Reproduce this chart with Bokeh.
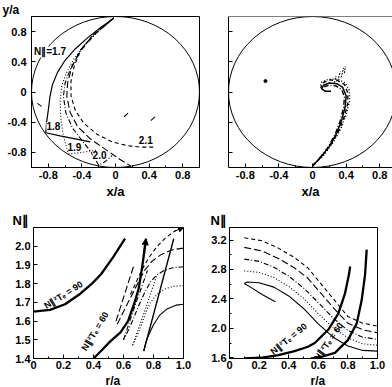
from bokeh.plotting import figure
from bokeh.layouts import row, column
from bokeh.models import Range1d, FixedTicker, Label, Span, Arrow, NormalHead, Title
from bokeh.embed import file_html
from bokeh.resources import INLINE

FONT = "Liberation Sans"

# ---------------- ticks ----------------
XY_TICKS = [-0.8, -0.4, 0.0, 0.4, 0.8]
XY_TICK_LABELS = ["-0.8", "-0.4", "0", "0.4", "0.8"]
XY_MINOR_TICKS = [-0.6, -0.2, 0.2, 0.6]
R_TICKS = [0.0, 0.2, 0.4, 0.6, 0.8, 1.0]
R_TICK_LABELS = ["0", "0.2", "0.4", "0.6", "0.8", "1.0"]
R_MINOR_TICKS = [0.1, 0.3, 0.5, 0.7, 0.9]
BL_N_TICKS = [1.4, 1.5, 1.6, 1.7, 1.8, 1.9, 2.0]
BL_N_TICK_LABELS = ["1.4", "1.5", "1.6", "1.7", "1.8", "1.9", "2.0"]
BR_N_TICKS = [1.6, 2.0, 2.4, 2.8, 3.2]
BR_N_TICK_LABELS = ["1.6", "2.0", "2.4", "2.8", "3.2"]
BR_N_MINOR_TICKS = [1.8, 2.2, 2.6, 3.0]

WALL_DIAMETER = 2.0

# ---------------- top-left: ray paths (x/a, y/a) ----------------
TL_R17_X = [-0.02, -0.18, -0.33, -0.48, -0.60, -0.69, -0.75, -0.78, -0.80, -0.82, -0.83, -0.66, -0.48, -0.30]
TL_R17_Y = [0.98, 0.85, 0.72, 0.57, 0.42, 0.26, 0.10, -0.06, -0.24, -0.40, -0.54, -0.58, -0.62, -0.66]
TL_R18_X = [-0.02, -0.22, -0.38, -0.50, -0.59, -0.64, -0.66, -0.65, -0.62, -0.58, -0.56, -0.40, -0.22]
TL_R18_Y = [0.98, 0.79, 0.61, 0.43, 0.24, 0.08, -0.12, -0.36, -0.58, -0.74, -0.82, -0.80, -0.77]
TL_R19_X = [-0.02, -0.25, -0.42, -0.53, -0.60, -0.62, -0.59, -0.51, -0.40, -0.30, -0.20, -0.12, -0.04]
TL_R19_Y = [0.98, 0.76, 0.54, 0.32, 0.12, -0.06, -0.28, -0.48, -0.64, -0.78, -0.97, -0.92, -0.84]
TL_R20_X = [-0.02, -0.27, -0.42, -0.52, -0.57, -0.58, -0.54, -0.45, -0.30, -0.12, 0.05, 0.18]
TL_R20_Y = [0.98, 0.75, 0.55, 0.33, 0.12, -0.06, -0.27, -0.46, -0.62, -0.76, -0.89, -0.98]
TL_R21_X = [-0.02, -0.28, -0.41, -0.49, -0.53, -0.53, -0.48, -0.38, -0.22, -0.04, 0.14, 0.30, 0.45]
TL_R21_Y = [0.98, 0.74, 0.56, 0.35, 0.14, -0.05, -0.24, -0.41, -0.56, -0.66, -0.71, -0.73, -0.73]
TL_DASH_X0 = [-0.93, 0.10, 0.42]
TL_DASH_Y0 = [-0.15, -0.33, -0.38]
TL_DASH_X1 = [-0.88, 0.15, 0.47]
TL_DASH_Y1 = [-0.19, -0.28, -0.33]
TL_LABELS = ["N\u2225=1.7", "1.8", "1.9", "2.0", "2.1"]
TL_LABEL_X = [-0.97, -0.74, -0.49, -0.19, 0.36]
TL_LABEL_Y = [0.53, -0.45, -0.73, -0.84, -0.64]

# ---------------- top-right: spiralling ray bundle ----------------
TR_A_X = [0.00, 0.10, 0.20, 0.29, 0.35, 0.39, 0.40, 0.36, 0.29, 0.20, 0.13, 0.11, 0.15, 0.22]
TR_A_Y = [-0.98, -0.86, -0.72, -0.54, -0.36, -0.19, -0.05, 0.06, 0.11, 0.12, 0.09, 0.04, 0.01, 0.01]
TR_B_X = [0.00, 0.12, 0.23, 0.32, 0.38, 0.42, 0.42, 0.38, 0.30, 0.20, 0.12, 0.10, 0.14]
TR_B_Y = [-0.98, -0.84, -0.68, -0.50, -0.32, -0.15, -0.01, 0.10, 0.15, 0.16, 0.12, 0.06, 0.02]
TR_C_X = [0.00, 0.14, 0.25, 0.34, 0.40, 0.44, 0.44, 0.39, 0.30, 0.19, 0.11, 0.09]
TR_C_Y = [-0.98, -0.83, -0.66, -0.48, -0.30, -0.13, 0.02, 0.12, 0.17, 0.17, 0.13, 0.06]
TR_D_X = [0.00, 0.08, 0.18, 0.27, 0.33, 0.37, 0.38, 0.35, 0.28, 0.20, 0.14]
TR_D_Y = [-0.98, -0.88, -0.74, -0.56, -0.38, -0.20, -0.07, 0.03, 0.08, 0.09, 0.07]
TR_HATCH_X0 = [0.26, 0.30, 0.34, 0.38]
TR_HATCH_Y0 = [0.12, 0.15, 0.19, 0.25]
TR_HATCH_X1 = [0.28, 0.33, 0.37, 0.39]
TR_HATCH_Y1 = [0.21, 0.27, 0.32, 0.34]
TR_DOT_X = [-0.56]
TR_DOT_Y = [0.145]

# ---------------- bottom-left: N_par vs r/a ----------------
BL_T90_R = [0.0, 0.11, 0.21, 0.31, 0.39, 0.45, 0.53, 0.61]
BL_T90_N = [1.65, 1.66, 1.69, 1.745, 1.80, 1.85, 1.94, 2.04]
BL_T60_R = [0.40, 0.45, 0.51, 0.58, 0.63, 0.67, 0.70, 0.72, 0.735, 0.75]
BL_T60_N = [1.40, 1.44, 1.49, 1.54, 1.60, 1.69, 1.77, 1.865, 1.95, 2.04]
BL_17_R = [1.0, 0.95, 0.89, 0.84, 0.80, 0.77, 0.75, 0.735]
BL_17_N = [1.69, 1.685, 1.665, 1.63, 1.58, 1.53, 1.49, 1.44]
BL_17B_R = [0.735, 0.835, 0.935]
BL_17B_N = [1.44, 1.74, 2.04]
BL_18_R = [1.0, 0.93, 0.87, 0.82, 0.78, 0.75, 0.72, 0.69, 0.66]
BL_18_N = [1.79, 1.785, 1.77, 1.74, 1.70, 1.65, 1.58, 1.52, 1.47]
BL_18B_R = [0.66, 0.74, 0.82]
BL_18B_N = [1.47, 1.65, 1.84]
BL_19_R = [1.0, 0.93, 0.87, 0.82, 0.78, 0.74, 0.70, 0.66, 0.62, 0.60]
BL_19_N = [1.89, 1.885, 1.87, 1.845, 1.81, 1.75, 1.68, 1.60, 1.53, 1.50]
BL_19B_R = [0.60, 0.68, 0.76]
BL_19B_N = [1.50, 1.69, 1.87]
BL_20_R = [1.0, 0.92, 0.85, 0.79, 0.74, 0.70, 0.65, 0.60, 0.55]
BL_20_N = [1.99, 1.98, 1.955, 1.92, 1.87, 1.81, 1.73, 1.65, 1.57]
BL_20B_R = [0.55, 0.61, 0.67]
BL_20B_N = [1.60, 1.75, 1.90]
BL_21_R = [1.0, 0.94, 0.88, 0.82, 0.77, 0.72, 0.68, 0.64]
BL_21_N = [2.10, 2.08, 2.045, 1.995, 1.94, 1.87, 1.80, 1.73]

# ---------------- bottom-right: N_par vs r/a ----------------
BR_T90_R = [0.10, 0.21, 0.33, 0.44, 0.53, 0.576, 0.667, 0.735, 0.78, 0.807, 0.815]
BR_T90_N = [1.59, 1.60, 1.635, 1.69, 1.75, 1.80, 1.98, 2.20, 2.47, 2.73, 2.84]
BR_T60_R = [0.55, 0.60, 0.712, 0.80, 0.86, 0.893, 0.916, 0.927]
BR_T60_N = [1.59, 1.60, 1.667, 1.84, 2.07, 2.38, 2.73, 3.07]
BR_21_R = [0.10, 0.22, 0.33, 0.44, 0.53, 0.62, 0.71, 0.80, 0.90, 1.0]
BR_21_N = [3.23, 3.19, 3.09, 2.96, 2.82, 2.60, 2.38, 2.16, 2.07, 2.03]
BR_20_R = [0.10, 0.22, 0.33, 0.44, 0.53, 0.62, 0.71, 0.80, 0.90, 1.0]
BR_20_N = [3.10, 3.05, 2.95, 2.82, 2.68, 2.47, 2.26, 2.07, 1.98, 1.94]
BR_19_R = [0.10, 0.20, 0.30, 0.40, 0.50, 0.60, 0.70, 0.80, 0.90, 1.0]
BR_19_N = [2.94, 2.91, 2.83, 2.71, 2.55, 2.35, 2.14, 1.97, 1.88, 1.85]
BR_18_R = [0.10, 0.20, 0.30, 0.40, 0.50, 0.60, 0.70, 0.80, 0.90, 1.0]
BR_18_N = [2.78, 2.76, 2.69, 2.57, 2.41, 2.20, 2.01, 1.87, 1.79, 1.77]
BR_17_R = [0.31, 0.22, 0.15, 0.10, 0.12, 0.20, 0.30, 0.40, 0.50, 0.60, 0.70, 0.80, 0.90, 1.0]
BR_17_N = [2.36, 2.46, 2.55, 2.61, 2.63, 2.62, 2.56, 2.44, 2.27, 2.06, 1.88, 1.76, 1.70, 1.69]

T90_TEXT = "N\u2225\u00b2T\u2091 = 90"
T60_TEXT = "N\u2225\u00b2T\u2091 = 60"


def base_fig(width, height, left, right, top, bottom, xr, yr):
    p = figure(width=width, height=height, x_range=Range1d(*xr), y_range=Range1d(*yr),
               toolbar_location=None, output_backend="svg",
               min_border_left=left, min_border_right=right,
               min_border_top=top, min_border_bottom=bottom)
    p.grid.visible = False
    p.outline_line_color = "black"
    p.outline_line_width = 1
    p.outline_line_alpha = 1.0
    p.background_fill_color = "white"
    p.border_fill_color = "white"
    for ax in p.axis:
        ax.major_tick_in = 4
        ax.major_tick_out = 0
        ax.minor_tick_in = 2
        ax.minor_tick_out = 0
        ax.axis_line_color = "black"
        ax.major_tick_line_color = "black"
        ax.minor_tick_line_color = "black"
        ax.major_label_text_font = FONT
        ax.major_label_text_font_size = "11px"
        ax.major_label_text_font_style = "bold"
        ax.major_label_text_color = "black"
        ax.major_label_standoff = 3
    return p


def set_ticks(axis, ticks, labels, minor=None):
    axis.ticker = FixedTicker(ticks=ticks, minor_ticks=minor or [])
    axis.major_label_overrides = dict(zip(ticks, labels))


def x_title(p, text, size="13px", standoff=2):
    p.xaxis.axis_label = text
    p.xaxis.axis_label_text_font = FONT
    p.xaxis.axis_label_text_font_size = size
    p.xaxis.axis_label_text_font_style = "bold"
    p.xaxis.axis_label_text_color = "black"
    p.xaxis.axis_label_standoff = standoff


def corner_title(p, text, offset, size="12px"):
    p.title.text = text
    p.title.align = "left"
    p.title.offset = offset
    p.title.standoff = 0
    p.title.text_font = FONT
    p.title.text_font_size = size
    p.title.text_font_style = "bold"
    p.title.text_color = "black"


def below_title(p, text, offset, size="12px"):
    p.add_layout(Title(text=text, align="left", offset=offset, standoff=0,
                       text_font=FONT, text_font_size=size, text_font_style="bold",
                       text_color="black"), "below")


def txt(p, x, y, s, size="10px", align="center", baseline="middle", angle=0.0, bg=None):
    p.add_layout(Label(x=x, y=y, text=s, text_font=FONT, text_font_size=size,
                       text_font_style="bold", text_color="black", text_align=align,
                       text_baseline=baseline, angle=angle, background_fill_color=bg))


def curve(p, xs, ys, dash="solid", w=1.1):
    p.line(xs, ys, line_color="black", line_width=w, line_dash=dash)


DOT = "1 2"
DASHDOT = "5 2 1 2"
LONG = "7 3"
DASH = "4 3"

# ======== top-left ========
p1 = base_fig(205, 205, 31, 6, 13, 38, (-1.0, 1.0), (-1.0, 1.0))
set_ticks(p1.xaxis, XY_TICKS, XY_TICK_LABELS, XY_MINOR_TICKS)
set_ticks(p1.yaxis, XY_TICKS, XY_TICK_LABELS)
p1.yaxis.major_label_standoff = 5
x_title(p1, "x/a")
corner_title(p1, "y/a", -29)
p1.ellipse(x=[0], y=[0], width=[WALL_DIAMETER], height=[WALL_DIAMETER],
           fill_color=None, line_color="black", line_width=1)
curve(p1, TL_R17_X, TL_R17_Y, "solid", 1.2)
curve(p1, TL_R18_X, TL_R18_Y, DOT)
curve(p1, TL_R19_X, TL_R19_Y, DASHDOT)
curve(p1, TL_R20_X, TL_R20_Y, LONG)
curve(p1, TL_R21_X, TL_R21_Y, DASH)
p1.segment(TL_DASH_X0, TL_DASH_Y0, TL_DASH_X1, TL_DASH_Y1, line_color="black", line_width=1.1)
txt(p1, TL_LABEL_X[0], TL_LABEL_Y[0], TL_LABELS[0], align="left", bg="white")
for s, x, y in zip(TL_LABELS[1:], TL_LABEL_X[1:], TL_LABEL_Y[1:]):
    txt(p1, x, y, s, bg="white")

# ======== top-right ========
p2 = base_fig(187, 205, 23, 0, 13, 38, (-1.0, 0.952), (-1.0, 1.0))
p2.outline_line_color = None
set_ticks(p2.xaxis, XY_TICKS, XY_TICK_LABELS, XY_MINOR_TICKS)
set_ticks(p2.yaxis, XY_TICKS, [""] * len(XY_TICKS))
x_title(p2, "x/a")
p2.add_layout(Span(location=1.0, dimension="width", line_color="black", line_width=1))
p2.ellipse(x=[0], y=[0], width=[WALL_DIAMETER], height=[WALL_DIAMETER],
           fill_color=None, line_color="black", line_width=1)
curve(p2, TR_A_X, TR_A_Y, "solid", 1.5)
curve(p2, TR_B_X, TR_B_Y, DASH, 1.4)
curve(p2, TR_C_X, TR_C_Y, DOT, 1.4)
curve(p2, TR_D_X, TR_D_Y, DASHDOT, 1.4)
p2.segment(TR_HATCH_X0, TR_HATCH_Y0, TR_HATCH_X1, TR_HATCH_Y1, line_color="black",
           line_width=1, line_dash="2 1")
p2.scatter(TR_DOT_X, TR_DOT_Y, size=3, color="black")

# ======== bottom-left ========
p3 = base_fig(205, 182, 33, 22, 22, 26, (0.0, 1.0), (1.4, 2.1))
set_ticks(p3.xaxis, R_TICKS, R_TICK_LABELS, R_MINOR_TICKS)
set_ticks(p3.yaxis, BL_N_TICKS, BL_N_TICK_LABELS)
p3.xaxis.major_label_standoff = 2
below_title(p3, "r/a", 72)
corner_title(p3, "N\u2225", -21, size="13px")
curve(p3, BL_T90_R, BL_T90_N, "solid", 2.3)
curve(p3, BL_T60_R, BL_T60_N, "solid", 2.3)
p3.add_layout(Arrow(end=NormalHead(size=6, fill_color="black", line_color="black"),
                    x_start=BL_T60_R[-2], y_start=BL_T60_N[-2],
                    x_end=BL_T60_R[-1], y_end=BL_T60_N[-1],
                    line_color="black", line_width=2))
curve(p3, BL_17_R, BL_17_N, "solid")
curve(p3, BL_17B_R, BL_17B_N, "solid", 1.4)
curve(p3, BL_18_R, BL_18_N, DOT)
curve(p3, BL_18B_R, BL_18B_N, DOT)
curve(p3, BL_19_R, BL_19_N, DASHDOT)
curve(p3, BL_19B_R, BL_19B_N, DASHDOT)
curve(p3, BL_20_R, BL_20_N, LONG)
curve(p3, BL_20B_R, BL_20B_N, LONG)
curve(p3, BL_21_R, BL_21_N, DASH)
p3.add_layout(Arrow(end=NormalHead(size=5, fill_color="black", line_color="black"),
                    x_start=BL_21_R[1], y_start=BL_21_N[1],
                    x_end=BL_21_R[0], y_end=BL_21_N[0],
                    line_color="black", line_width=1))
txt(p3, 0.20, 1.74, T90_TEXT, size="9px", angle=0.56)
txt(p3, 0.41, 1.545, T60_TEXT, size="9px", angle=1.03)

# ======== bottom-right ========
p4 = base_fig(187, 182, 24, 15, 22, 26, (0.0, 1.0), (1.59, 3.37))
set_ticks(p4.xaxis, R_TICKS, R_TICK_LABELS, R_MINOR_TICKS)
set_ticks(p4.yaxis, BR_N_TICKS, BR_N_TICK_LABELS, BR_N_MINOR_TICKS)
p4.xaxis.major_label_standoff = 2
below_title(p4, "r/a", 81)
corner_title(p4, "N\u2225", -19, size="13px")
curve(p4, BR_T90_R, BR_T90_N, "solid", 2.3)
curve(p4, BR_T60_R, BR_T60_N, "solid", 2.3)
curve(p4, BR_21_R, BR_21_N, DASH)
curve(p4, BR_20_R, BR_20_N, LONG)
curve(p4, BR_19_R, BR_19_N, DASHDOT)
curve(p4, BR_18_R, BR_18_N, DOT)
curve(p4, BR_17_R, BR_17_N, "solid")
txt(p4, 0.40, 1.857, T90_TEXT, size="9px", angle=0.68)
txt(p4, 0.67, 1.82, T60_TEXT, size="9px", angle=0.96)

layout = column(row(p1, p2), row(p3, p4))
open("out.html", "w").write(file_html(layout, INLINE))
